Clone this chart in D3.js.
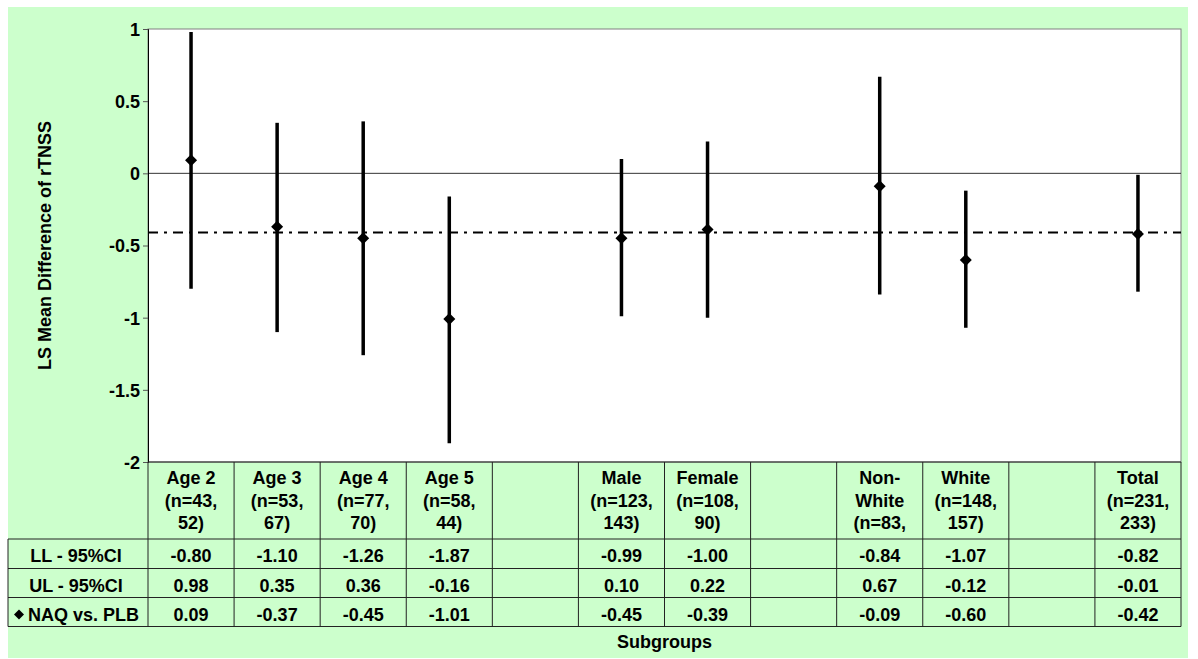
<!DOCTYPE html>
<html>
<head>
<meta charset="utf-8">
<script src="https://cdn.jsdelivr.net/npm/d3@7"></script>
<style>
body { margin: 0; background: #fff; }
text { font-family: "Liberation Sans", Arial, sans-serif; font-weight: bold; font-size: 18px; fill: #000; }
</style>
</head>
<body>
<div id="chart"></div>
<script>
// subgroup columns (blank ones are spacers)
var headerLines = [
    ["Age 2", "(n=43,", "52)"],
    ["Age 3", "(n=53,", "67)"],
    ["Age 4", "(n=77,", "70)"],
    ["Age 5", "(n=58,", "44)"],
    [],
    ["Male", "(n=123,", "143)"],
    ["Female", "(n=108,", "90)"],
    [],
    ["Non-", "White", "(n=83,"],
    ["White", "(n=148,", "157)"],
    [],
    ["Total", "(n=231,", "233)"]
];
var lowerCI  = [-0.80, -1.10, -1.26, -1.87, null, -0.99, -1.00, null, -0.84, -1.07, null, -0.82];
var upperCI  = [ 0.98,  0.35,  0.36, -0.16, null,  0.10,  0.22, null,  0.67, -0.12, null, -0.01];
var estimate = [ 0.09, -0.37, -0.45, -1.01, null, -0.45, -0.39, null, -0.09, -0.60, null, -0.42];
var refLine = -0.41;
var yTicks = [1, 0.5, 0, -0.5, -1, -1.5, -2];
var rowLabels = ["LL - 95%CI", "UL - 95%CI", "NAQ vs. PLB"];

var width = 1198, height = 659;
var plot = {left: 148, right: 1181, top: 29, bottom: 462};
var rowEdges = [539, 568.5, 597.5, 626.5];

var svg = d3.select("#chart").append("svg")
    .attr("width", width)
    .attr("height", height);

// green chart background
svg.append("rect")
    .attr("x", 8).attr("y", 7)
    .attr("width", 1180).attr("height", 651)
    .attr("fill", "#ccffcc");

svg.append("rect")
    .attr("x", plot.left).attr("y", plot.top)
    .attr("width", plot.right - plot.left).attr("height", plot.bottom - plot.top)
    .attr("fill", "#fff")
    .attr("stroke", "#808080")
    .attr("stroke-width", 1);

var x = d3.scaleBand()
    .domain(d3.range(headerLines.length))
    .range([plot.left, plot.right])
    .padding(0);

var y = d3.scaleLinear()
    .domain([-2, 1])
    .range([plot.bottom, plot.top]);

// zero line
svg.append("line")
    .attr("x1", plot.left).attr("x2", plot.right)
    .attr("y1", y(0)).attr("y2", y(0))
    .attr("stroke", "#333").attr("stroke-width", 1);

// y axis
var leftAxis = d3.axisLeft(y)
    .tickValues(yTicks)
    .tickSize(5)
    .tickPadding(3)
    .tickFormat(d => String(d));

var yAxis = svg.append("g")
    .attr("transform", `translate(${plot.left},0)`)
    .call(leftAxis);
yAxis.select(".domain").attr("stroke", "#000");
yAxis.selectAll(".tick line").attr("stroke", "#555");
yAxis.selectAll(".tick text")
    .attr("dy", "0.36em")
    .style("font-size", "18px")
    .style("font-family", '"Liberation Sans", Arial, sans-serif')
    .style("font-weight", "bold");

// reference dash-dot line
svg.append("line")
    .attr("x1", plot.left).attr("x2", plot.right)
    .attr("y1", y(refLine)).attr("y2", y(refLine))
    .attr("stroke", "#000").attr("stroke-width", 2)
    .attr("stroke-dasharray", "10,6,3,6");

var idx = d3.range(headerLines.length).filter(i => estimate[i] !== null);

// confidence interval bars
svg.append("g").selectAll("line")
    .data(idx)
    .enter()
    .append("line")
    .attr("x1", i => x(i) + x.bandwidth() / 2)
    .attr("x2", i => x(i) + x.bandwidth() / 2)
    .attr("y1", i => y(upperCI[i]))
    .attr("y2", i => y(lowerCI[i]))
    .attr("stroke", "#000")
    .attr("stroke-width", 3.5);

// estimates (diamonds)
var diamond = d3.symbol().type(d3.symbolSquare).size(72);
svg.append("g").selectAll("path")
    .data(idx)
    .enter()
    .append("path")
    .attr("d", diamond)
    .attr("transform", i => `translate(${x(i) + x.bandwidth() / 2},${y(estimate[i])}) rotate(45)`)
    .attr("fill", "#000");

// y axis title
svg.append("text")
    .attr("transform", `translate(51, ${(plot.top + plot.bottom) / 2}) rotate(-90)`)
    .attr("text-anchor", "middle")
    .text("LS Mean Difference of rTNSS");

// data table
var table = svg.append("g");
var lineStyle = sel => sel.attr("stroke", "#222").attr("stroke-width", 1);

// horizontal rules
table.append("line")
    .attr("x1", plot.left).attr("x2", plot.right)
    .attr("y1", plot.bottom).attr("y2", plot.bottom)
    .call(lineStyle);
rowEdges.forEach(function(ry) {
    table.append("line")
        .attr("x1", 8).attr("x2", plot.right)
        .attr("y1", ry).attr("y2", ry)
        .call(lineStyle);
});
// vertical rules
table.append("line")
    .attr("x1", 8).attr("x2", 8)
    .attr("y1", rowEdges[0]).attr("y2", rowEdges[3])
    .call(lineStyle);
d3.range(headerLines.length + 1).forEach(function(i) {
    var xx = i < headerLines.length ? x(i) : plot.right;
    table.append("line")
        .attr("x1", xx).attr("x2", xx)
        .attr("y1", plot.bottom).attr("y2", rowEdges[3])
        .call(lineStyle);
});

// header cells
var baselines = [484, 507, 529];
headerLines.forEach(function(lines, i) {
    lines.forEach(function(t, k) {
        table.append("text")
            .attr("x", x(i) + x.bandwidth() / 2)
            .attr("y", baselines[k])
            .attr("text-anchor", "middle")
            .text(t);
    });
});

// row labels and values
var rows = [lowerCI, upperCI, estimate];
rows.forEach(function(vals, r) {
    var mid = (rowEdges[r] + rowEdges[r + 1]) / 2;
    if (r < 2) {
        table.append("text")
            .attr("x", 76).attr("y", mid + 8.5)
            .attr("text-anchor", "middle")
            .text(rowLabels[r]);
    } else {
        table.append("path")
            .attr("d", d3.symbol().type(d3.symbolSquare).size(50))
            .attr("transform", `translate(19,${mid + 2.5}) rotate(45)`)
            .attr("fill", "#000");
        table.append("text")
            .attr("x", 28).attr("y", mid + 8.5)
            .text(rowLabels[r]);
    }
    vals.forEach(function(v, i) {
        if (v === null) return;
        table.append("text")
            .attr("x", x(i) + x.bandwidth() / 2)
            .attr("y", mid + 8.5)
            .attr("text-anchor", "middle")
            .text(v.toFixed(2));
    });
});

// x axis title
svg.append("text")
    .attr("x", (plot.left + plot.right) / 2)
    .attr("y", 648)
    .attr("text-anchor", "middle")
    .text("Subgroups");
</script>
</body>
</html>
